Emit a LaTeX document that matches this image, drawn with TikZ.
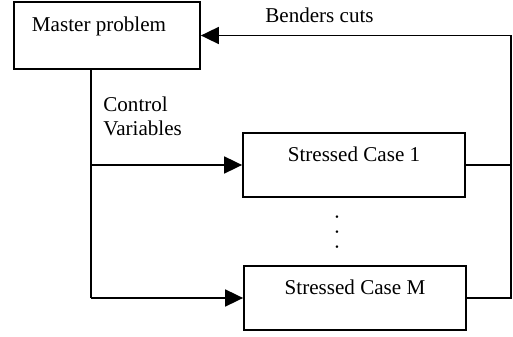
\documentclass[tikz,border=0pt]{standalone}
\usepackage{fontspec}
\setmainfont{Liberation Serif}
\usetikzlibrary{arrows.meta}

\begin{document}
\begin{tikzpicture}[scale=0.2]
\tikzstyle{every node}+=[inner sep=0pt, font=\fontsize{12}{13.7}\selectfont]
\tikzstyle{block}=[draw=black, line width=1pt, text height=8pt, text depth=12pt]
\tikzstyle{link}=[black, line width=1pt]
\tikzstyle{feed}=[link, -{Triangle[length=0.36cm,width=0.34cm]}]
\useasboundingbox (0,0) rectangle (51.3,-33.7);
\node [block, inner xsep=0.36cm, text width=3cm, align=flush left, minimum height=1.34cm] (master) at (10.7,-3.55) {Master problem};
\node [block, minimum width=4.44cm, minimum height=1.28cm] (case1) at (35.4,-16.5) {Stressed Case 1};
\node [block, minimum width=4.44cm, minimum height=1.28cm] (caseM) at (35.5,-29.8) {Stressed Case M};
\node [rotate=-90] (gap) at (33.7,-23.2) {.\hspace{5.5pt}.\hspace{5.5pt}.};
\node [align=left, anchor=north west] (ctrl) at (10.3,-9.66) {Control\\Variables};
\node [anchor=base] (cuts) at (31.95,-2.3) {Benders cuts};
\coordinate (trunk) at (9.1,-6.9);
\coordinate (ret) at (51.1,-3.55);
\draw [link] (trunk) -- (trunk |- caseM.west);
\draw [feed] (trunk |- case1.west) -- (case1.west);
\draw [feed] (trunk |- caseM.west) -- (caseM.west);
\draw [link] (case1.east) -- (case1.east -| ret);
\draw [feed] (caseM.east) -| (ret) -- (master.east);
\end{tikzpicture}
\end{document}
